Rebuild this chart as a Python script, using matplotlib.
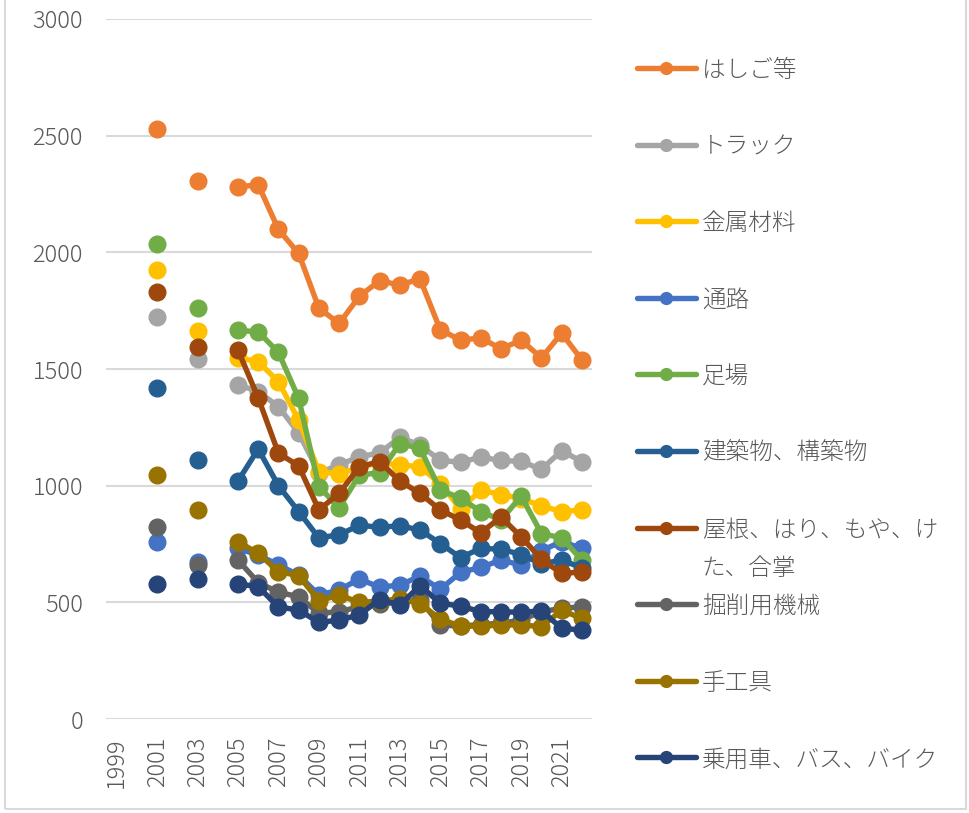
import matplotlib

matplotlib.use("Agg")

import matplotlib.pyplot as plt  # noqa: E402
import numpy as np  # noqa: E402
from matplotlib.lines import Line2D  # noqa: E402
from matplotlib.patches import Rectangle  # noqa: E402

plt.rcParams["font.family"] = ["Noto Sans CJK JP", "DejaVu Sans"]

W, H = 970, 813

years = list(range(1999, 2023))
nan = np.nan

# values; 1999, 2000, 2002, 2004 have no data
ladder = [nan, nan, 2530, nan, 2306, nan, 2280, 2290, 2098, 1995, 1761, 1695,
          1812, 1878, 1860, 1886, 1668, 1624, 1633, 1587, 1623, 1548, 1653, 1539]
truck = [nan, nan, 1723, nan, 1543, nan, 1433, 1403, 1339, 1226, 1055, 1089,
         1124, 1140, 1207, 1174, 1108, 1101, 1122, 1108, 1104, 1070, 1150, 1103]
metal = [nan, nan, 1924, nan, 1663, nan, 1548, 1531, 1446, 1281, 1060, 1050,
         1078, 1098, 1089, 1081, 1008, 900, 981, 962, 945, 913, 889, 896]
passage = [nan, nan, 759, nan, 672, nan, 731, 703, 660, 617, 531, 553,
           600, 565, 574, 612, 556, 628, 650, 681, 660, 722, 760, 731]
scaffold = [nan, nan, 2036, nan, 1760, nan, 1665, 1660, 1571, 1374, 996, 905,
            1046, 1055, 1180, 1160, 981, 947, 889, 853, 955, 795, 776, 681]
building = [nan, nan, 1419, nan, 1110, nan, 1020, 1157, 1000, 889, 776, 790,
            830, 822, 828, 810, 752, 692, 731, 728, 705, 665, 681, 648]
roof = [nan, nan, 1830, nan, 1594, nan, 1581, 1376, 1139, 1085, 896, 967,
        1081, 1103, 1020, 967, 896, 853, 798, 865, 781, 684, 624, 630]
excavator = [nan, nan, 823, nan, 662, nan, 681, 585, 543, 524, 453, 460,
             481, 494, 500, 510, 403, 398, 405, 410, 424, 460, 474, 481]
handtool = [nan, nan, 1046, nan, 894, nan, 760, 710, 632, 614, 507, 531,
            500, 505, 515, 494, 428, 398, 398, 403, 403, 396, 466, 431]
vehicle = [nan, nan, 579, nan, 598, nan, 579, 567, 480, 467, 414, 424,
           446, 512, 488, 572, 496, 484, 460, 460, 457, 464, 389, 381]

labels = ["はしご等", "トラック", "金属材料", "通路", "足場", "建築物、構築物",
          "屋根、はり、もや、け\nた、合掌", "掘削用機械", "手工具",
          "乗用車、バス、バイク"]
series = [ladder, truck, metal, passage, scaffold, building, roof,
          excavator, handtool, vehicle]
colors = ["#ED7D31", "#A5A5A5", "#FFC000", "#4472C4", "#70AD47", "#255E91",
          "#9E480E", "#636363", "#997300", "#264478"]

TXT = "#595959"
FS = 17

fig = plt.figure(figsize=(W / 100, H / 100), dpi=100)
ax = fig.add_axes([106.5 / W, 1 - 719 / H, (592 - 106.5) / W, (719 - 19) / H])

for vals, col in zip(series, colors):
    ax.plot(years, vals, color=col, lw=3.9, marker="o", ms=12,
            solid_capstyle="round", zorder=3)

ax.set_xlim(1998.5, 2022.5)
ax.set_ylim(0, 3000)
ax.set_yticks(np.arange(0, 3001, 500))
ax.set_xticks(years[::2])
ax.set_xticklabels([str(y) for y in years[::2]], rotation=90)
ax.tick_params(axis="y", length=0, pad=17, labelsize=FS, labelcolor=TXT)
ax.tick_params(axis="x", length=0, pad=13, labelsize=FS, labelcolor=TXT)
for lab in ax.get_xticklabels() + ax.get_yticklabels():
    lab.set_fontweight("light")
ax.grid(axis="y", color="#D9D9D9", lw=1.5, zorder=0)
for s in ax.spines.values():
    s.set_visible(False)

# legend drawn in figure pixels to mimic the spreadsheet layout
for i, (lab, col) in enumerate(zip(labels, colors)):
    yp = 1 - (68 + 76.6 * i) / H
    fig.add_artist(Line2D([637 / W, 696 / W], [yp, yp], color=col, lw=3.9,
                          solid_capstyle="round"))
    fig.add_artist(Line2D([666 / W], [yp], color=col, marker="o", ms=8.5))
    fig.text(702 / W, yp + 10 / H, lab, ha="left", va="top", fontsize=FS,
             fontweight="light", color=TXT, linespacing=1.7)

fig.add_artist(Rectangle((5 / W, 4 / H), 961 / W, 1.1, transform=fig.transFigure,
                         fill=False, edgecolor="#D9D9D9", lw=1.5))

fig.savefig("out.png", dpi=100)
